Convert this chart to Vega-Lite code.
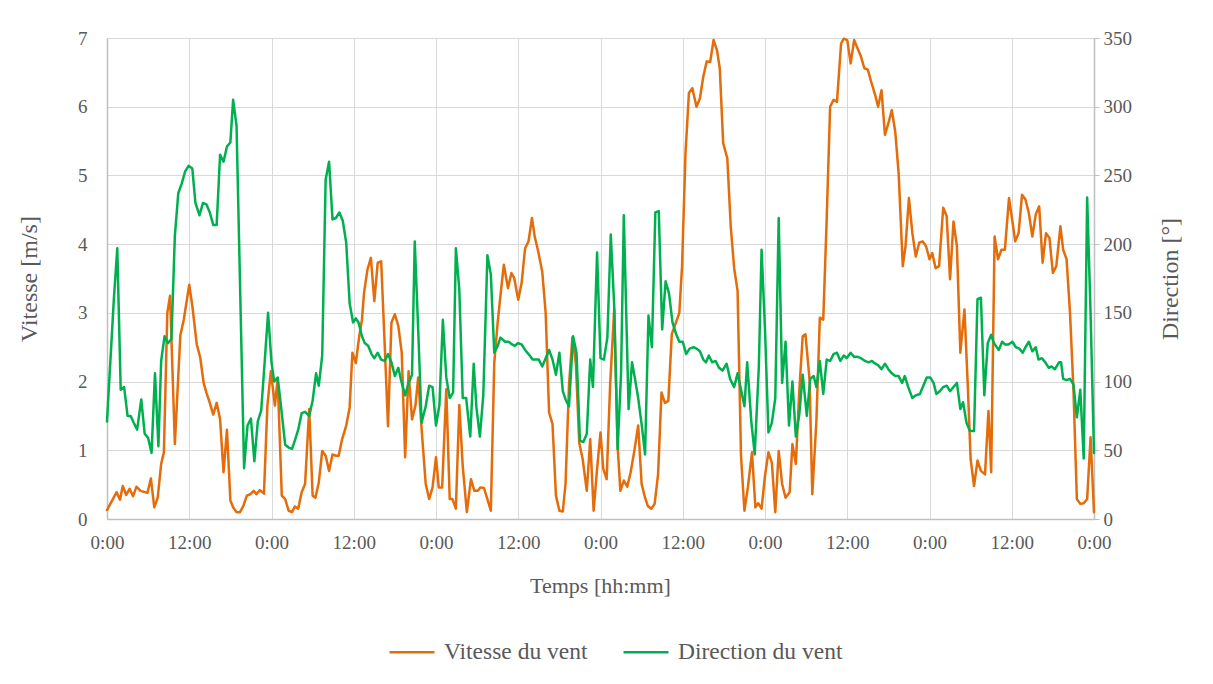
{
"$schema":"https://vega.github.io/schema/vega-lite/v6.json",
"width":987,"height":481,
"autosize":{"type":"none"},
"padding":{"left":107,"top":38,"right":119,"bottom":165},
"background":"white",
"config":{
"font":"Liberation Serif",
"style":{"guide-label":{"font":"Liberation Serif"},"guide-title":{"font":"Liberation Serif"}},
"view":{"stroke":null},
"axis":{"labelFont":"Liberation Serif","titleFont":"Liberation Serif","labelColor":"#595959","titleColor":"#595959","titleFontWeight":"normal","labelFontSize":19,"titleFontSize":23,"gridColor":"#D9D9D9","gridWidth":1,"domainColor":"#BFBFBF","domainWidth":1.5,"tickColor":"#BFBFBF"},
"legend":{"labelFont":"Liberation Serif","labelFontSize":23.5,"labelColor":"#595959","labelLimit":400}
},
"datasets":{
"speed":[{"h":0,"v":0.13},{"h":1.4,"v":0.39},{"h":1.9,"v":0.28},{"h":2.3,"v":0.48},{"h":2.8,"v":0.35},{"h":3.3,"v":0.44},{"h":3.8,"v":0.33},{"h":4.3,"v":0.47},{"h":4.9,"v":0.41},{"h":5.9,"v":0.38},{"h":6.4,"v":0.59},{"h":6.9,"v":0.17},{"h":7.4,"v":0.31},{"h":7.9,"v":0.8},{"h":8.3,"v":0.97},{"h":8.8,"v":3.0},{"h":9.2,"v":3.25},{"h":9.9,"v":1.09},{"h":10.7,"v":2.67},{"h":11.2,"v":2.9},{"h":12.0,"v":3.41},{"h":12.45,"v":3.1},{"h":13.1,"v":2.54},{"h":13.6,"v":2.35},{"h":14.1,"v":1.98},{"h":14.5,"v":1.84},{"h":15.0,"v":1.69},{"h":15.5,"v":1.52},{"h":16.0,"v":1.69},{"h":16.5,"v":1.45},{"h":17.0,"v":0.68},{"h":17.5,"v":1.3},{"h":18.0,"v":0.27},{"h":18.4,"v":0.17},{"h":18.9,"v":0.1},{"h":19.4,"v":0.1},{"h":19.9,"v":0.19},{"h":20.4,"v":0.34},{"h":20.9,"v":0.36},{"h":21.4,"v":0.41},{"h":21.8,"v":0.36},{"h":22.3,"v":0.42},{"h":22.9,"v":0.37},{"h":23.4,"v":1.65},{"h":23.9,"v":2.15},{"h":24.5,"v":1.65},{"h":24.9,"v":2.05},{"h":25.5,"v":0.34},{"h":26.0,"v":0.29},{"h":26.5,"v":0.12},{"h":27.0,"v":0.1},{"h":27.4,"v":0.18},{"h":27.9,"v":0.15},{"h":28.4,"v":0.39},{"h":28.9,"v":0.51},{"h":29.5,"v":1.6},{"h":30.0,"v":0.34},{"h":30.4,"v":0.31},{"h":30.9,"v":0.53},{"h":31.4,"v":0.99},{"h":31.9,"v":0.92},{"h":32.4,"v":0.7},{"h":32.9,"v":0.94},{"h":33.4,"v":0.92},{"h":33.8,"v":0.92},{"h":34.3,"v":1.16},{"h":34.9,"v":1.36},{"h":35.4,"v":1.62},{"h":35.8,"v":2.42},{"h":36.3,"v":2.27},{"h":36.8,"v":2.66},{"h":37.2,"v":2.9},{"h":37.5,"v":3.29},{"h":38.0,"v":3.63},{"h":38.5,"v":3.8},{"h":39.0,"v":3.17},{"h":39.5,"v":3.73},{"h":40.0,"v":3.75},{"h":40.5,"v":2.57},{"h":41.0,"v":1.35},{"h":41.5,"v":2.86},{"h":42.0,"v":2.98},{"h":42.5,"v":2.81},{"h":43.0,"v":2.42},{"h":43.5,"v":0.9},{"h":44.0,"v":2.15},{"h":44.5,"v":1.45},{"h":45.0,"v":1.65},{"h":45.4,"v":2.06},{"h":45.9,"v":1.31},{"h":46.5,"v":0.51},{"h":47.0,"v":0.29},{"h":47.5,"v":0.46},{"h":48.0,"v":0.9},{"h":48.4,"v":0.46},{"h":48.9,"v":0.46},{"h":49.5,"v":1.89},{"h":50.0,"v":0.29},{"h":50.4,"v":0.29},{"h":50.9,"v":0.15},{"h":51.4,"v":1.66},{"h":51.9,"v":0.77},{"h":52.5,"v":0.1},{"h":53.1,"v":0.58},{"h":53.6,"v":0.41},{"h":54.1,"v":0.41},{"h":54.5,"v":0.46},{"h":55.0,"v":0.45},{"h":55.5,"v":0.29},{"h":56.0,"v":0.12},{"h":56.5,"v":2.27},{"h":57.0,"v":2.86},{"h":57.5,"v":3.34},{"h":57.9,"v":3.7},{"h":58.5,"v":3.36},{"h":59.0,"v":3.58},{"h":59.4,"v":3.51},{"h":60.0,"v":3.19},{"h":60.5,"v":3.44},{"h":61.0,"v":3.94},{"h":61.5,"v":4.04},{"h":62.0,"v":4.38},{"h":62.4,"v":4.11},{"h":62.9,"v":3.9},{"h":63.5,"v":3.6},{"h":64.0,"v":3.0},{"h":64.5,"v":1.55},{"h":65.0,"v":1.38},{"h":65.5,"v":0.34},{"h":66.0,"v":0.12},{"h":66.5,"v":0.11},{"h":66.9,"v":0.51},{"h":67.4,"v":1.94},{"h":67.9,"v":2.64},{"h":68.4,"v":2.27},{"h":68.9,"v":1.11},{"h":69.4,"v":0.87},{"h":70.0,"v":0.41},{"h":70.5,"v":1.16},{"h":71.0,"v":0.12},{"h":71.5,"v":0.73},{"h":72.0,"v":1.26},{"h":72.4,"v":0.73},{"h":72.9,"v":0.58},{"h":73.4,"v":1.94},{"h":74.0,"v":3.05},{"h":74.5,"v":1.06},{"h":74.9,"v":0.41},{"h":75.4,"v":0.56},{"h":75.9,"v":0.47},{"h":76.4,"v":0.68},{"h":76.9,"v":0.97},{"h":77.5,"v":1.36},{"h":78.0,"v":0.51},{"h":78.5,"v":0.31},{"h":78.9,"v":0.19},{"h":79.4,"v":0.15},{"h":79.9,"v":0.22},{"h":80.4,"v":0.65},{"h":80.9,"v":1.84},{"h":81.4,"v":1.69},{"h":81.9,"v":1.72},{"h":82.4,"v":2.69},{"h":82.9,"v":2.83},{"h":83.5,"v":3.0},{"h":83.9,"v":3.68},{"h":84.4,"v":5.32},{"h":84.9,"v":6.2},{"h":85.4,"v":6.27},{"h":86.0,"v":6.0},{"h":86.5,"v":6.12},{"h":87.0,"v":6.44},{"h":87.5,"v":6.66},{"h":88.0,"v":6.65},{"h":88.5,"v":6.97},{"h":89.0,"v":6.82},{"h":89.4,"v":6.56},{"h":89.9,"v":5.47},{"h":90.5,"v":5.25},{"h":91.0,"v":4.26},{"h":91.5,"v":3.65},{"h":92.0,"v":3.32},{"h":92.5,"v":0.92},{"h":93.0,"v":0.12},{"h":93.5,"v":0.46},{"h":94.1,"v":0.97},{"h":94.6,"v":0.17},{"h":95.0,"v":0.23},{"h":95.5,"v":0.15},{"h":96.0,"v":0.63},{"h":96.5,"v":0.97},{"h":97.0,"v":0.82},{"h":97.5,"v":0.1},{"h":98.0,"v":0.99},{"h":98.5,"v":0.51},{"h":99.0,"v":0.31},{"h":99.6,"v":0.39},{"h":100.0,"v":1.09},{"h":100.5,"v":0.8},{"h":101.0,"v":1.86},{"h":101.5,"v":2.66},{"h":101.9,"v":2.69},{"h":102.5,"v":2.03},{"h":102.9,"v":0.36},{"h":103.5,"v":1.43},{"h":104.0,"v":2.93},{"h":104.5,"v":2.9},{"h":105.0,"v":4.36},{"h":105.5,"v":6.0},{"h":106.0,"v":6.1},{"h":106.5,"v":6.07},{"h":107.1,"v":6.92},{"h":107.5,"v":6.99},{"h":108.0,"v":6.97},{"h":108.5,"v":6.63},{"h":109.0,"v":6.97},{"h":109.5,"v":6.85},{"h":110.0,"v":6.73},{"h":110.5,"v":6.56},{"h":111.0,"v":6.54},{"h":111.5,"v":6.36},{"h":112.1,"v":6.16},{"h":112.5,"v":6.0},{"h":113.0,"v":6.24},{"h":113.5,"v":5.59},{"h":114.0,"v":5.76},{"h":114.5,"v":5.95},{"h":115.0,"v":5.64},{"h":115.5,"v":5.03},{"h":116.1,"v":3.68},{"h":116.5,"v":3.97},{"h":117.0,"v":4.67},{"h":117.5,"v":4.16},{"h":118.0,"v":3.82},{"h":118.5,"v":4.02},{"h":119.0,"v":4.04},{"h":119.5,"v":3.97},{"h":120.0,"v":3.78},{"h":120.4,"v":3.87},{"h":120.9,"v":3.65},{"h":121.4,"v":3.68},{"h":122.0,"v":4.53},{"h":122.5,"v":4.41},{"h":123.0,"v":3.49},{"h":123.5,"v":4.33},{"h":124.0,"v":3.97},{"h":124.5,"v":2.42},{"h":125.1,"v":3.05},{"h":125.6,"v":1.91},{"h":126.0,"v":0.87},{"h":126.5,"v":0.48},{"h":127.0,"v":0.85},{"h":127.5,"v":0.7},{"h":128.1,"v":0.65},{"h":128.6,"v":1.57},{"h":129.0,"v":0.68},{"h":129.5,"v":4.11},{"h":130.0,"v":3.78},{"h":130.5,"v":3.92},{"h":131.0,"v":3.92},{"h":131.6,"v":4.67},{"h":132.1,"v":4.33},{"h":132.5,"v":4.04},{"h":133.0,"v":4.16},{"h":133.5,"v":4.72},{"h":134.0,"v":4.65},{"h":134.5,"v":4.45},{"h":135.0,"v":4.11},{"h":135.5,"v":4.43},{"h":136.0,"v":4.55},{"h":136.5,"v":3.73},{"h":137.0,"v":4.16},{"h":137.5,"v":4.09},{"h":138.0,"v":3.58},{"h":138.5,"v":3.68},{"h":139.1,"v":4.26},{"h":139.5,"v":3.92},{"h":140.0,"v":3.78},{"h":140.5,"v":3.0},{"h":141.0,"v":1.89},{"h":141.5,"v":0.29},{"h":142.0,"v":0.22},{"h":142.5,"v":0.23},{"h":143.0,"v":0.29},{"h":143.5,"v":1.19},{"h":144.0,"v":0.1}],
"dir":[{"h":0,"d":71},{"h":1.0,"d":160},{"h":1.5,"d":197},{"h":2.0,"d":94},{"h":2.5,"d":96},{"h":3.0,"d":75},{"h":3.45,"d":75},{"h":3.9,"d":70},{"h":4.4,"d":65},{"h":5.0,"d":87},{"h":5.5,"d":62},{"h":6.0,"d":59},{"h":6.5,"d":48},{"h":7.0,"d":106},{"h":7.5,"d":53},{"h":7.9,"d":115},{"h":8.4,"d":133},{"h":8.9,"d":128},{"h":9.4,"d":131},{"h":9.9,"d":206},{"h":10.4,"d":237},{"h":10.9,"d":244},{"h":11.4,"d":253},{"h":11.9,"d":257},{"h":12.45,"d":255},{"h":12.9,"d":230},{"h":13.5,"d":221},{"h":14.0,"d":230},{"h":14.5,"d":229},{"h":15.0,"d":223},{"h":15.5,"d":214},{"h":16.0,"d":214},{"h":16.5,"d":265},{"h":17.0,"d":260},{"h":17.5,"d":271},{"h":18.0,"d":274},{"h":18.4,"d":305},{"h":18.9,"d":286},{"h":20.0,"d":37},{"h":20.5,"d":68},{"h":21.0,"d":73},{"h":21.5,"d":42},{"h":22.0,"d":71},{"h":22.5,"d":79},{"h":23.0,"d":114},{"h":23.5,"d":150},{"h":24.0,"d":114},{"h":24.4,"d":100},{"h":24.9,"d":103},{"h":25.3,"d":86},{"h":26.0,"d":54},{"h":26.5,"d":52},{"h":27.0,"d":51},{"h":27.4,"d":57},{"h":27.9,"d":65},{"h":28.4,"d":77},{"h":28.9,"d":78},{"h":29.5,"d":75},{"h":30.0,"d":86},{"h":30.5,"d":106},{"h":30.9,"d":97},{"h":31.4,"d":119},{"h":31.9,"d":247},{"h":32.4,"d":260},{"h":32.9,"d":218},{"h":33.4,"d":219},{"h":33.9,"d":223},{"h":34.4,"d":217},{"h":34.9,"d":201},{"h":35.4,"d":157},{"h":35.9,"d":143},{"h":36.3,"d":146},{"h":36.7,"d":143},{"h":37.2,"d":133},{"h":37.6,"d":128},{"h":38.1,"d":126},{"h":38.6,"d":120},{"h":39.0,"d":117},{"h":39.5,"d":121},{"h":40.0,"d":116},{"h":40.5,"d":115},{"h":41.0,"d":120},{"h":41.5,"d":114},{"h":42.0,"d":104},{"h":42.5,"d":110},{"h":43.0,"d":99},{"h":43.5,"d":90},{"h":44.0,"d":99},{"h":44.5,"d":105},{"h":44.9,"d":202},{"h":45.4,"d":138},{"h":45.9,"d":70},{"h":46.5,"d":82},{"h":47.0,"d":97},{"h":47.5,"d":96},{"h":48.0,"d":68},{"h":48.5,"d":83},{"h":49.0,"d":145},{"h":49.5,"d":103},{"h":50.0,"d":88},{"h":50.5,"d":92},{"h":50.9,"d":197},{"h":51.4,"d":167},{"h":51.9,"d":88},{"h":52.4,"d":88},{"h":53.0,"d":60},{"h":53.5,"d":113},{"h":53.9,"d":81},{"h":54.4,"d":60},{"h":54.9,"d":90},{"h":55.5,"d":192},{"h":56.0,"d":178},{"h":56.5,"d":121},{"h":57.0,"d":126},{"h":57.4,"d":132},{"h":58.1,"d":129},{"h":58.6,"d":129},{"h":59.1,"d":127},{"h":59.5,"d":126},{"h":60.0,"d":128},{"h":60.5,"d":127},{"h":61.0,"d":123},{"h":61.5,"d":120},{"h":62.1,"d":116},{"h":62.6,"d":116},{"h":63.0,"d":116},{"h":63.5,"d":111},{"h":64.0,"d":117},{"h":64.5,"d":123},{"h":65.0,"d":116},{"h":65.5,"d":105},{"h":66.0,"d":121},{"h":66.5,"d":93},{"h":66.9,"d":87},{"h":67.4,"d":82},{"h":68.0,"d":133},{"h":68.5,"d":121},{"h":69.0,"d":57},{"h":69.5,"d":56},{"h":70.0,"d":62},{"h":70.5,"d":116},{"h":70.9,"d":96},{"h":71.5,"d":194},{"h":72.0,"d":117},{"h":72.5,"d":116},{"h":73.0,"d":132},{"h":73.5,"d":207},{"h":74.0,"d":155},{"h":74.5,"d":51},{"h":75.0,"d":106},{"h":75.4,"d":221},{"h":76.1,"d":80},{"h":76.6,"d":114},{"h":77.0,"d":103},{"h":77.5,"d":88},{"h":78.0,"d":69},{"h":78.5,"d":47},{"h":79.0,"d":148},{"h":79.5,"d":125},{"h":80.0,"d":223},{"h":80.5,"d":224},{"h":81.0,"d":138},{"h":81.5,"d":173},{"h":82.0,"d":164},{"h":82.5,"d":143},{"h":83.0,"d":135},{"h":83.5,"d":129},{"h":84.0,"d":129},{"h":84.5,"d":120},{"h":85.0,"d":124},{"h":85.6,"d":125},{"h":86.0,"d":124},{"h":86.5,"d":122},{"h":87.0,"d":116},{"h":87.4,"d":114},{"h":87.8,"d":119},{"h":88.3,"d":114},{"h":88.8,"d":115},{"h":89.3,"d":110},{"h":89.8,"d":108},{"h":90.4,"d":113},{"h":90.9,"d":102},{"h":91.5,"d":96},{"h":92.0,"d":106},{"h":92.5,"d":94},{"h":93.0,"d":82},{"h":93.4,"d":114},{"h":94.0,"d":71},{"h":94.5,"d":47},{"h":95.1,"d":111},{"h":95.5,"d":196},{"h":96.0,"d":138},{"h":96.5,"d":63},{"h":97.0,"d":70},{"h":97.5,"d":88},{"h":98.0,"d":219},{"h":98.5,"d":99},{"h":99.0,"d":129},{"h":99.5,"d":68},{"h":100.0,"d":100},{"h":100.5,"d":60},{"h":101.0,"d":76},{"h":101.5,"d":105},{"h":102.1,"d":75},{"h":102.6,"d":102},{"h":103.1,"d":104},{"h":103.5,"d":96},{"h":104.0,"d":115},{"h":104.5,"d":91},{"h":105.0,"d":116},{"h":105.5,"d":115},{"h":106.0,"d":120},{"h":106.5,"d":121},{"h":107.0,"d":115},{"h":107.5,"d":119},{"h":107.9,"d":117},{"h":108.5,"d":121},{"h":109.0,"d":118},{"h":109.5,"d":118},{"h":110.0,"d":117},{"h":110.6,"d":115},{"h":111.1,"d":114},{"h":111.6,"d":115},{"h":112.1,"d":113},{"h":112.5,"d":112},{"h":113.0,"d":109},{"h":113.5,"d":113},{"h":114.0,"d":109},{"h":114.5,"d":106},{"h":115.0,"d":104},{"h":115.5,"d":104},{"h":116.0,"d":99},{"h":116.4,"d":104},{"h":116.9,"d":96},{"h":117.5,"d":88},{"h":118.0,"d":90},{"h":118.6,"d":91},{"h":119.1,"d":97},{"h":119.6,"d":103},{"h":120.1,"d":103},{"h":120.6,"d":99},{"h":121.0,"d":91},{"h":121.5,"d":93},{"h":122.0,"d":96},{"h":122.5,"d":97},{"h":123.0,"d":93},{"h":123.5,"d":96},{"h":124.0,"d":99},{"h":124.5,"d":80},{"h":124.9,"d":85},{"h":125.4,"d":70},{"h":125.9,"d":64},{"h":126.5,"d":64},{"h":127.0,"d":160},{"h":127.5,"d":161},{"h":128.0,"d":90},{"h":128.5,"d":128},{"h":129.0,"d":134},{"h":129.4,"d":128},{"h":130.1,"d":123},{"h":130.6,"d":129},{"h":131.0,"d":127},{"h":131.5,"d":127},{"h":132.1,"d":129},{"h":132.6,"d":125},{"h":133.1,"d":124},{"h":133.6,"d":121},{"h":134.0,"d":125},{"h":134.5,"d":129},{"h":135.0,"d":122},{"h":135.5,"d":125},{"h":135.9,"d":116},{"h":136.4,"d":117},{"h":136.9,"d":114},{"h":137.4,"d":110},{"h":137.8,"d":111},{"h":138.3,"d":109},{"h":138.9,"d":114},{"h":139.2,"d":114},{"h":139.5,"d":102},{"h":140.0,"d":101},{"h":140.5,"d":102},{"h":141.0,"d":98},{"h":141.5,"d":74},{"h":142.0,"d":94},{"h":142.5,"d":44},{"h":143.0,"d":234},{"h":143.5,"d":150},{"h":144.0,"d":48}]
},
"layer":[
{"data":{"name":"speed"},
"mark":{"type":"line","strokeWidth":2.5,"strokeJoin":"round","strokeCap":"round"},
"encoding":{
"x":{"field":"h","type":"quantitative","scale":{"domain":[0,144],"nice":false,"zero":false},
"axis":{"title":"Temps [hh:mm]","labelFont":"Liberation Serif","titleFont":"Liberation Serif","labelFontSize":19,"titleFontSize":22,"values":[0,12,24,36,48,60,72,84,96,108,120,132,144],"labelExpr":"datum.value % 24 == 0 ? '0:00' : '12:00'","grid":true,"ticks":false,"labelPadding":14,"titleX":493,"titleY":66,"titleBaseline":"middle","labelFlush":false}},
"y":{"field":"v","type":"quantitative","scale":{"domain":[0,7],"nice":false},
"axis":{"title":"Vitesse [m/s]","labelFont":"Liberation Serif","titleFont":"Liberation Serif","labelFontSize":19,"titleFontSize":24,"orient":"left","values":[0,1,2,3,4,5,6,7],"grid":true,"ticks":false,"labelPadding":20,"titleAngle":-90,"titleX":-78,"titleBaseline":"middle"}},
"color":{"datum":"Vitesse du vent","type":"nominal","scale":{"domain":["Vitesse du vent","Direction du vent"],"range":["#E46C0A","#00B050"]},
"legend":{"title":null,"orient":"none","legendX":281,"legendY":590,"direction":"horizontal","symbolType":"stroke","symbolSize":2025,"symbolStrokeWidth":2.5,"labelOffset":8,"columnPadding":30,"labelFont":"Liberation Serif","labelFontSize":23.5,"labelLimit":400}}
}},
{"data":{"name":"dir"},
"mark":{"type":"line","strokeWidth":2.5,"strokeJoin":"round","strokeCap":"round"},
"encoding":{
"x":{"field":"h","type":"quantitative"},
"y":{"field":"d","type":"quantitative","scale":{"domain":[0,350],"nice":false},
"axis":{"title":"Direction [°]","labelFont":"Liberation Serif","titleFont":"Liberation Serif","labelFontSize":19,"titleFontSize":24,"orient":"right","values":[0,50,100,150,200,250,300,350],"grid":false,"ticks":true,"tickSize":5,"labelPadding":4,"titleAngle":-90,"titleX":76,"titleBaseline":"middle"}},
"color":{"datum":"Direction du vent","type":"nominal"}
}}
],
"resolve":{"scale":{"y":"independent"},"axis":{"y":"independent"}}
}
